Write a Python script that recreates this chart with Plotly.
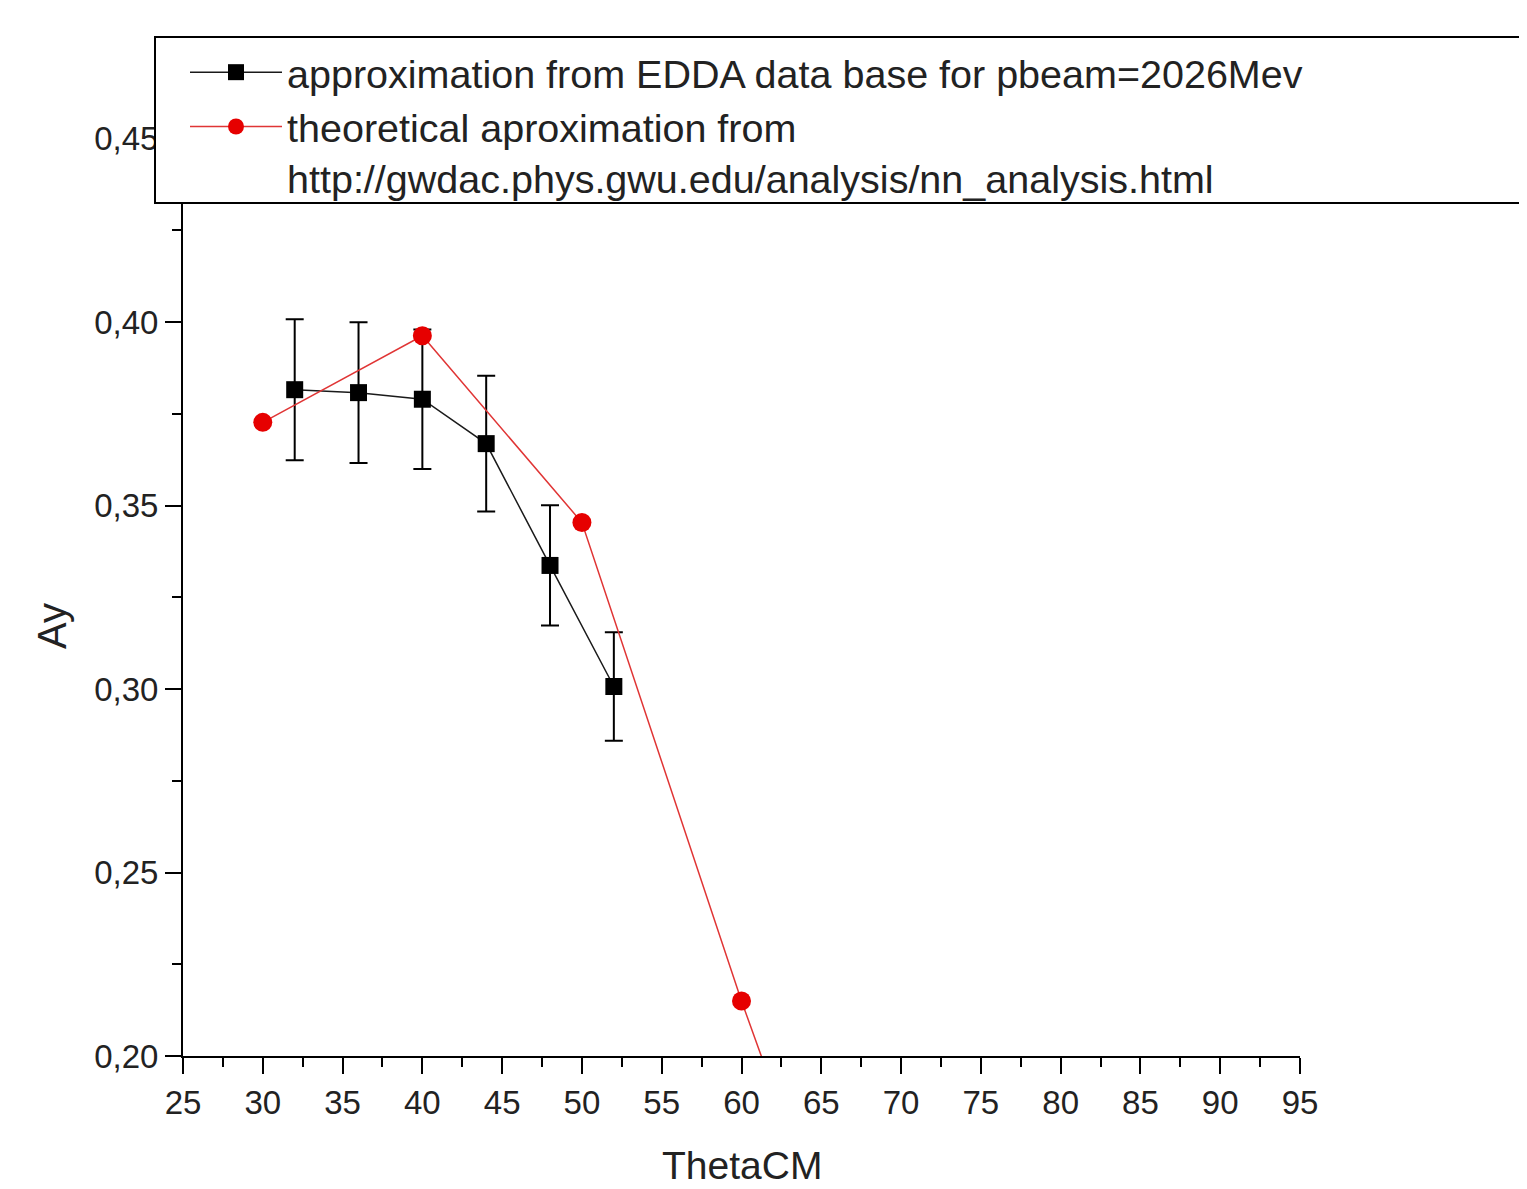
import plotly.graph_objects as go

# ---- data ----
edda_theta = [32, 36, 40, 44, 48, 52]
edda_ay = [0.3816, 0.3808, 0.3790, 0.3669, 0.3337, 0.3007]
edda_err = [0.0192, 0.0192, 0.0190, 0.0185, 0.0164, 0.0148]

theo_theta = [30, 40, 50, 60, 70]
theo_ay = [0.3727, 0.3963, 0.3454, 0.2150, 0.0940]

x_ticks = list(range(25, 100, 5))
y_ticks = [0.20, 0.25, 0.30, 0.35, 0.40, 0.45]

name_edda = "approximation from EDDA data base for pbeam=2026Mev"
name_theo = "theoretical aproximation from<br>http://gwdac.phys.gwu.edu/analysis/nn_analysis.html"

# ---- layout constants (window pixels) ----
W, H = 1527, 1189
OFF = 8  # default page body margin
L, R, T, B = 183, 227, 47, 133
pw, ph = W - L - R, H - T - B


def px_x(p):
    return (p - L) / pw


def px_y(p):
    return (H - B - p) / ph


FONT = "Arial, Liberation Sans, sans-serif"
TXT = "#222222"

fig = go.Figure()

fig.add_trace(go.Scatter(
    x=edda_theta, y=edda_ay, name=name_edda, mode="lines+markers",
    line=dict(color="#1a1a1a", width=1.5),
    marker=dict(symbol="square", size=17, color="#000000"),
    error_y=dict(type="data", array=edda_err, visible=True,
                 color="#000000", thickness=2, width=9),
    cliponaxis=True,
))

fig.add_trace(go.Scatter(
    x=theo_theta, y=theo_ay, name=name_theo, mode="lines+markers",
    line=dict(color="#e03535", width=1.5),
    marker=dict(symbol="circle", size=19, color="#e60000"),
    cliponaxis=True,
))

axis_common = dict(
    showline=True, linecolor="#000000", linewidth=2,
    ticks="outside", ticklen=16, tickwidth=2, tickcolor="#000000",
    showgrid=False, zeroline=False, mirror=False,
    tickfont=dict(family=FONT, size=33, color=TXT),
)

fig.update_xaxes(
    range=[25, 95], tickmode="array", tickvals=x_ticks,
    minor=dict(ticks="outside", ticklen=9, tickwidth=2, tickcolor="#000000", dtick=2.5),
    **axis_common,
)
fig.update_yaxes(
    range=[0.2, 0.475], tickmode="array", tickvals=y_ticks, tickformat=".2f",
    minor=dict(ticks="outside", ticklen=9, tickwidth=2, tickcolor="#000000", dtick=0.025),
    **axis_common,
)

# legend box
fig.add_shape(type="rect", xref="paper", yref="paper",
              x0=px_x(155), x1=px_x(1545), y0=px_y(203), y1=px_y(37),
              line=dict(color="#000000", width=2), fillcolor="white", layer="above")

fig.update_layout(
    width=W - OFF, height=H - OFF,
    margin=dict(l=L - OFF, r=R, t=T - OFF, b=B, autoexpand=False),
    paper_bgcolor="white", plot_bgcolor="white",
    separators=",.",
    showlegend=True,
    legend=dict(
        x=px_x(185), y=px_y(40), xanchor="left", yanchor="top",
        bgcolor="rgba(0,0,0,0)", borderwidth=0,
        font=dict(family=FONT, size=39.5, color=TXT),
        itemwidth=92, valign="top", tracegroupgap=0,
    ),
    annotations=[
        dict(text="ThetaCM", xref="paper", yref="paper", x=px_x(742), y=px_y(1189),
             xanchor="center", yanchor="bottom", showarrow=False,
             font=dict(family=FONT, size=39, color=TXT)),
        dict(text="Ay", xref="paper", yref="paper", x=px_x(52), y=px_y(626),
             xanchor="center", yanchor="middle", showarrow=False, textangle=-90,
             font=dict(family=FONT, size=40, color=TXT)),
    ],
)

fig.write_html("out.html")
